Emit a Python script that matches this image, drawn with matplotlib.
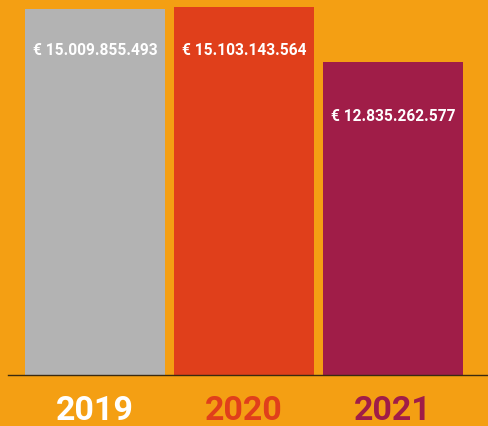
import matplotlib
matplotlib.use('Agg')
import matplotlib.pyplot as plt

years = ['2019', '2020', '2021']
values = [15009855493, 15103143564, 12835262577]
labels = ['€ 15.009.855.493', '€ 15.103.143.564', '€ 12.835.262.577']

BG = '#F49F13'
bar_colors = ['#B3B3B3', '#E03F1B', '#A01D48']
year_colors = ['#FFFFFF', '#E03F1B', '#A01D48']
label_offsets = [41, 43, 54]  # px below bar top

W, H, DPI = 489, 426, 100
fig = plt.figure(figsize=(W / DPI, H / DPI), dpi=DPI, facecolor=BG)
base_px = 375
ax = fig.add_axes([8 / W, 1 - base_px / H, 1 - 8 / W, base_px / H])
ax.set_facecolor(BG)

x = list(range(len(values)))
ax.bar(x, values, width=140 / 149, color=bar_colors, zorder=2)

ymax = values[1] * base_px / 368
ax.set_ylim(0, ymax)
ax.set_xlim((8 - 95) / 149, (489 - 95) / 149)

for i, v in enumerate(values):
    ax.annotate(labels[i], (i, v), xytext=(0, -label_offsets[i] * 72 / DPI),
                textcoords='offset points', ha='center', va='center',
                color='white', fontsize=11.2, fontweight='bold', family='Roboto',
                zorder=3)

for i, yr in enumerate(years):
    ax.annotate(yr, (i, 0), xytext=(0, -45 * 72 / DPI), textcoords='offset points',
                ha='center', va='baseline', color=year_colors[i], fontsize=24.5,
                fontweight='bold', family='Roboto', annotation_clip=False)

for s in ['top', 'right', 'left']:
    ax.spines[s].set_visible(False)
ax.spines['bottom'].set_color('#3a2a10')
ax.spines['bottom'].set_linewidth(1.0)
ax.spines['bottom'].set_zorder(4)
ax.set_xticks([])
ax.set_yticks([])

fig.savefig('out.png', dpi=DPI, facecolor=BG)
